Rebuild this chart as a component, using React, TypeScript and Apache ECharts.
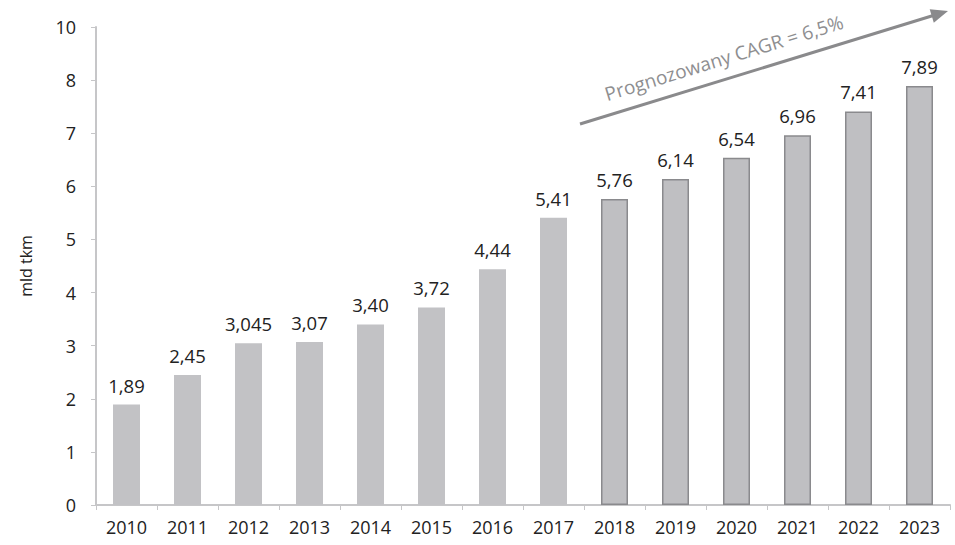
import React, { useEffect, useRef } from "react";
import * as echarts from "echarts";

const years = ["2010", "2011", "2012", "2013", "2014", "2015", "2016", "2017", "2018", "2019", "2020", "2021", "2022", "2023"];
const values = [1.89, 2.45, 3.045, 3.07, 3.4, 3.72, 4.44, 5.41, 5.76, 6.14, 6.54, 6.96, 7.41, 7.89];
const valueLabels = ["1,89", "2,45", "3,045", "3,07", "3,40", "3,72", "4,44", "5,41", "5,76", "6,14", "6,54", "6,96", "7,41", "7,89"];
const forecastFrom = "2018";
const yTickLabels = ["0", "1", "2", "3", "4", "5", "6", "7", "8", "10"];
const yAxisName = "mld tkm";
const arrowText = "Prognozowany CAGR = 6,5%";

const FONT = "'Open Sans', 'Noto Sans', sans-serif";

export default function App() {
  const ref = useRef<HTMLDivElement>(null);
  useEffect(() => {
    if (!ref.current) return;
    const chart = echarts.init(ref.current, undefined, { renderer: "svg" });
    const fIdx = years.indexOf(forecastFrom);
    const data = values.map((v, i) => ({
      value: v,
      itemStyle:
        i >= fIdx
          ? { color: "#bfbfc2", borderColor: "#8a8a8d", borderWidth: 1.5 }
          : { color: "#c2c2c5" },
    }));
    const x0 = 580, y0 = 124, x1 = 948, y1 = 11;
    const ang = Math.atan2(y0 - y1, x1 - x0);
    chart.setOption({
      animation: false,
      grid: { left: 96, right: 5, top: 27, bottom: 40 },
      xAxis: {
        type: "category",
        data: years,
        axisLine: { lineStyle: { color: "#c6c6c8", width: 2 } },
        axisTick: { show: true, length: 5, lineStyle: { color: "#c6c6c8" } },
        axisLabel: { color: "#222", fontSize: 18, fontFamily: FONT, margin: 13 },
      },
      yAxis: {
        type: "value",
        min: 0,
        max: 9,
        interval: 1,
        name: yAxisName,
        nameLocation: "middle",
        nameGap: 62,
        nameTextStyle: { color: "#222", fontSize: 16, fontFamily: FONT },
        axisLine: { show: true, lineStyle: { color: "#c6c6c8", width: 2 } },
        axisTick: { show: true, length: 5, lineStyle: { color: "#c6c6c8" } },
        splitLine: { show: false },
        axisLabel: {
          color: "#222",
          fontSize: 18,
          fontFamily: FONT,
          margin: 20,
          formatter: (v: number) => yTickLabels[Math.round(v)] ?? "",
        },
      },
      series: [
        {
          type: "bar",
          data,
          barWidth: 27,
          label: {
            show: true,
            position: "top",
            distance: 10,
            color: "#222",
            fontSize: 18.5,
            fontFamily: FONT,
            formatter: (p: any) => valueLabels[p.dataIndex],
          },
        },
      ],
      graphic: [
        {
          type: "line",
          shape: { x1: x0, y1: y0, x2: x1 - 12 * Math.cos(ang), y2: y1 + 12 * Math.sin(ang) },
          style: { stroke: "#8a8a8c", lineWidth: 3 },
        },
        {
          type: "polygon",
          shape: {
            points: [
              [x1, y1],
              [x1 - 17 * Math.cos(ang) - 7 * Math.sin(ang), y1 + 17 * Math.sin(ang) - 7 * Math.cos(ang)],
              [x1 - 17 * Math.cos(ang) + 7 * Math.sin(ang), y1 + 17 * Math.sin(ang) + 7 * Math.cos(ang)],
            ],
          },
          style: { fill: "#8a8a8c" },
        },
        {
          type: "text",
          x: 724,
          y: 58,
          rotation: ang,
          style: {
            text: arrowText,
            fill: "#8e8e90",
            fontSize: 19,
            fontFamily: FONT,
            align: "center",
            verticalAlign: "middle",
          },
        },
      ],
    });
    return () => chart.dispose();
  }, []);
  return <div ref={ref} style={{ width: 955, height: 545, position: "absolute", left: 0, top: 0 }} />;
}
